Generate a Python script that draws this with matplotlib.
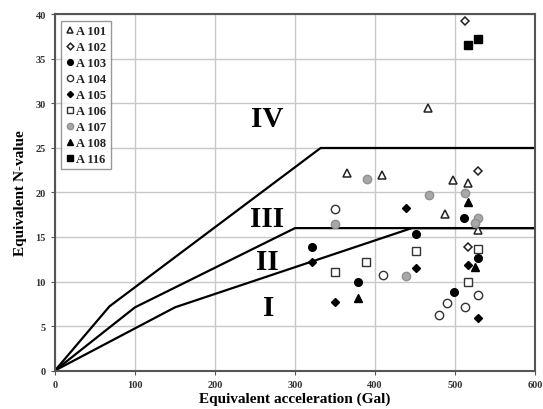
import matplotlib
matplotlib.use('Agg')
import matplotlib.pyplot as plt

plt.rcParams['font.family'] = 'Liberation Serif'
plt.rcParams['font.weight'] = 'bold'

# boundary lines (acceleration, N-value)
line_iv_x = [0, 68, 332, 600]
line_iv_y = [0, 7.2, 25, 25]
line_iii_x = [0, 100, 300, 600]
line_iii_y = [0, 7.1, 16, 16]
line_ii_x = [0, 150, 446, 600]
line_ii_y = [0, 7.1, 16, 16]

zone_names = ['IV', 'III', 'II', 'I']
zone_x = [265, 265, 266, 267]
zone_y = [28.3, 17.1, 12.3, 7.1]

a101_x = [364.6, 409, 498, 515.8, 488, 529, 466.7]
a101_y = [22.2, 22.0, 21.4, 21.1, 17.6, 15.8, 29.5]
a102_x = [528.3, 516.7, 512.5]
a102_y = [22.4, 13.9, 39.3]
a103_x = [321, 451, 379, 499, 511.7, 529]
a103_y = [13.9, 15.3, 10.0, 8.86, 17.1, 12.6]
a104_x = [350, 409.6, 489.6, 480.4, 512.5, 528.3]
a104_y = [18.1, 10.7, 7.6, 6.2, 7.1, 8.5]
a105_x = [438.75, 321, 451, 350, 516.7, 529]
a105_y = [18.3, 12.2, 11.5, 7.66, 11.8, 5.9]
a106_x = [451, 388.75, 350, 529, 516.7]
a106_y = [13.4, 12.15, 11.1, 13.7, 10.0]
a107_x = [389.6, 467.5, 350, 438.75, 512.5, 529, 525]
a107_y = [21.5, 19.75, 16.5, 10.6, 19.9, 17.1, 16.6]
a108_x = [379, 516.7, 525]
a108_y = [8.2, 18.9, 11.6]
a116_x = [516.7, 529]
a116_y = [36.6, 37.2]

fig = plt.figure(figsize=(5.43, 4.10), dpi=100)
ax = fig.add_axes([0.1013, 0.0939, 0.884, 0.8683])

ax.grid(True, color='#c8c8c8', linewidth=1.0)
ax.set_axisbelow(True)

for lx, ly in [(line_iv_x, line_iv_y), (line_iii_x, line_iii_y), (line_ii_x, line_ii_y)]:
    ax.plot(lx, ly, 'k-', linewidth=1.6, zorder=2)

for name, zx, zy in zip(zone_names, zone_x, zone_y):
    ax.text(zx, zy, name, fontsize=21, fontweight='bold', ha='center', va='center')

ms = 5.5
ax.plot(a101_x, a101_y, '^', mfc='white', mec='#222222', mew=1.1, ms=ms, ls='none', label='A 101')
ax.plot(a102_x, a102_y, 'D', mfc='white', mec='#222222', mew=1.1, ms=4.5, ls='none', label='A 102')
ax.plot(a103_x, a103_y, 'o', mfc='black', mec='black', ms=ms, ls='none', label='A 103')
ax.plot(a104_x, a104_y, 'o', mfc='white', mec='#333333', mew=1.0, ms=ms + 0.5, ls='none', label='A 104')
ax.plot(a105_x, a105_y, 'D', mfc='black', mec='black', ms=4.2, ls='none', label='A 105')
ax.plot(a106_x, a106_y, 's', mfc='white', mec='#333333', mew=1.0, ms=ms + 0.5, ls='none', label='A 106')
ax.plot(a107_x, a107_y, 'o', mfc='#a8a8a8', mec='#909090', mew=1.0, ms=ms + 0.5, ls='none', label='A 107')
ax.plot(a108_x, a108_y, '^', mfc='black', mec='black', ms=ms, ls='none', label='A 108')
ax.plot(a116_x, a116_y, 's', mfc='black', mec='black', ms=ms, ls='none', label='A 116')

leg = ax.legend(loc='upper left', fontsize=9, frameon=True, fancybox=False,
                markerscale=0.75, handlelength=0.7, handletextpad=0.15,
                labelspacing=0.32, borderpad=0.35, borderaxespad=0.5,
                edgecolor='#808080')
leg.get_frame().set_linewidth(1.0)
for t in leg.get_texts():
    t.set_fontweight('bold')
    t.set_color('#222222')

ax.set_xlim(0, 600)
ax.set_ylim(0, 40)
ax.set_xticks(range(0, 601, 100))
ax.set_yticks(range(0, 41, 5))
ax.tick_params(labelsize=7.5, length=3, width=0.8, color='#555555', labelcolor='#333333')
for lab in ax.get_xticklabels() + ax.get_yticklabels():
    lab.set_fontweight('bold')

for sp in ax.spines.values():
    sp.set_color('#555555')
    sp.set_linewidth(1.5)

ax.set_xlabel('Equivalent acceleration (Gal)', fontsize=11, fontweight='bold', labelpad=2)
ax.set_ylabel('Equivalent N-value', fontsize=11, fontweight='bold', labelpad=6)

fig.savefig('out.png', dpi=100)
